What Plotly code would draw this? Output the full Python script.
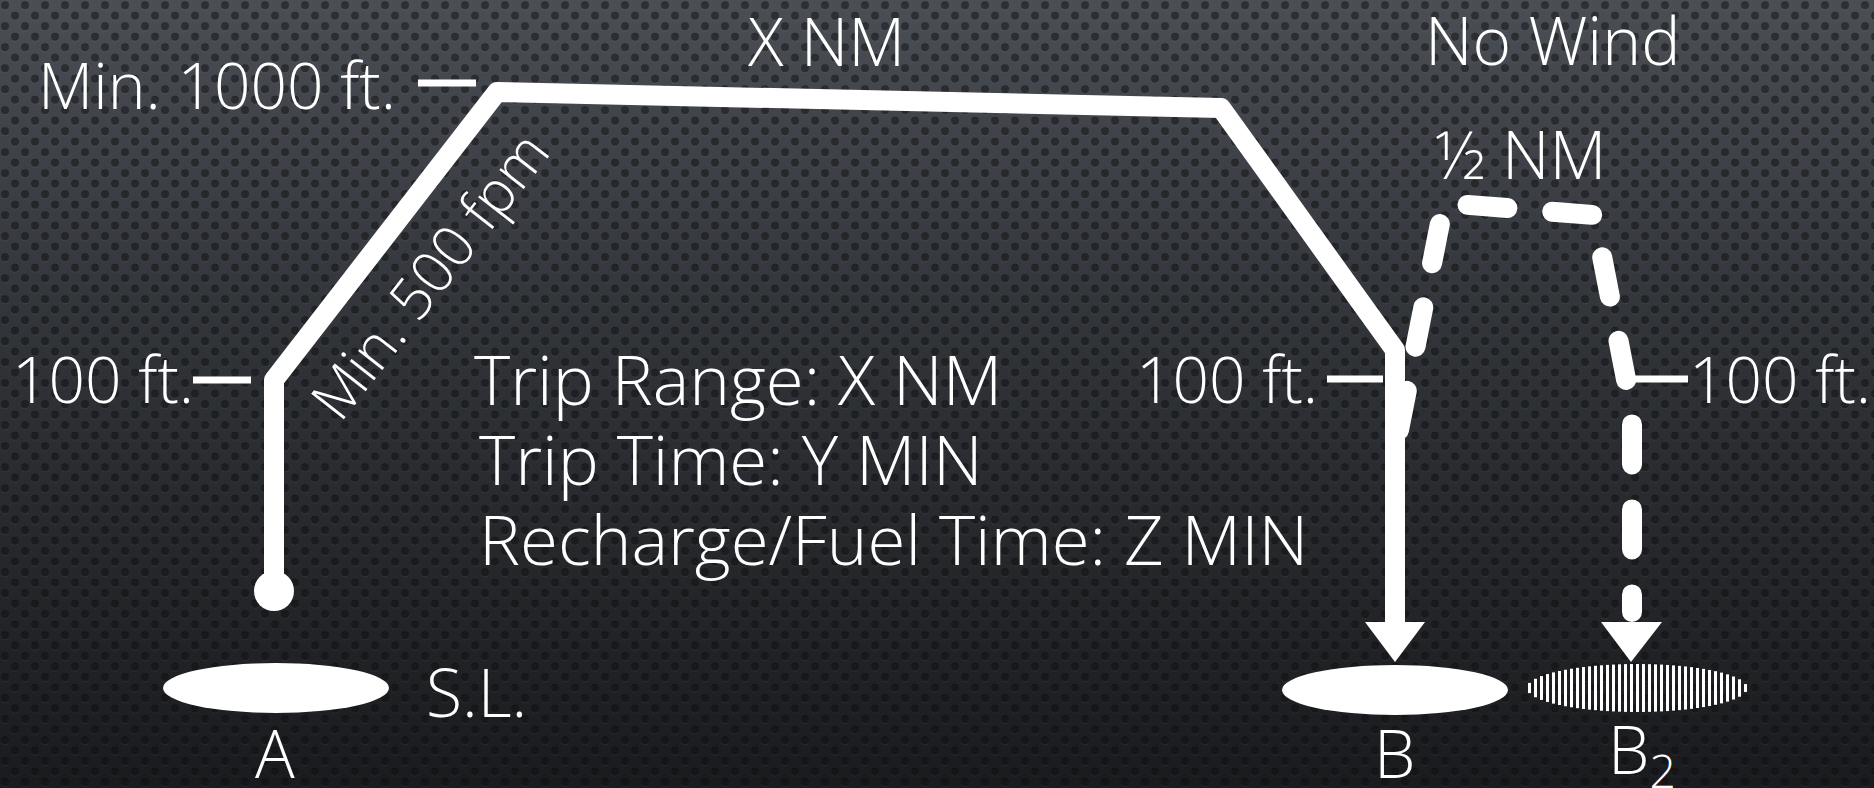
import base64
import numpy as np
import plotly.graph_objects as go

W, H = 1874, 788

# ---- diagram data (canvas pixel coordinates, y grows downward) ----
route_x = [274, 274, 497, 1221, 1395, 1395]
route_y = [591, 380, 92, 108, 350, 622]

divert_x = [1399, 1444, 1594, 1632, 1632]
divert_y = [430, 203, 215, 410, 612]

arrow_b_x = [1365, 1425, 1395]
arrow_b_y = [622, 622, 662]
arrow_b2_x = [1601, 1662, 1631]
arrow_b2_y = [622, 622, 662]

origin_x = [274]
origin_y = [591]

site_names = ["A", "B", "B2"]
site_cx = [276, 1395, 1637]
site_cy = [688, 690, 688]
site_rx = [113, 113, 110]
site_ry = [25, 25, 24]

tick_x0 = [418, 193, 1327, 1633]
tick_x1 = [476, 251, 1383, 1688]
tick_y = [83, 380, 379, 379]

label_text = ["Min. 1000 ft.", "X NM", "No Wind", "½ NM", "100 ft.", "100 ft.",
              "100 ft.", "S.L.", "A", "B", "B<sub>2</sub>"]
label_x = [398, 826, 1553, 1521, 196, 1320, 1687, 424, 275, 1394, 1642]
label_y = [84, 40, 39, 153, 378, 378, 378, 691, 752, 752, 752]
label_anchor = ["right", "center", "center", "center", "right", "right",
                "left", "left", "center", "center", "center"]
label_size = [64, 66, 66, 66, 64, 64, 64, 66, 66, 66, 66]

info_text = ["Trip Range: X NM", "Trip Time: Y MIN", "Recharge/Fuel Time: Z MIN"]
info_x = [472, 477, 477]
info_y = [378, 458, 538]

climb_text = "Min. 500 fpm"
climb_x, climb_y, climb_angle = 428, 274, -52

# ---- background (perforated metal texture) ----
svg = f'''<svg xmlns="http://www.w3.org/2000/svg" width="{W}" height="{H}" viewBox="0 0 {W} {H}">
<defs>
<linearGradient id="g" x1="0" y1="0" x2="0" y2="1">
<stop offset="0" stop-color="#4a4e55"/>
<stop offset="0.45" stop-color="#2f3237"/>
<stop offset="1" stop-color="#1a1b1e"/>
</linearGradient>
<pattern id="p" width="20" height="21" patternUnits="userSpaceOnUse">
<circle cx="5" cy="6.25" r="4" fill="#fff" fill-opacity="0.05"/>
<circle cx="15" cy="16.75" r="4" fill="#fff" fill-opacity="0.05"/>
<circle cx="5" cy="5.25" r="4" fill="#000" fill-opacity="0.45"/>
<circle cx="15" cy="15.75" r="4" fill="#000" fill-opacity="0.45"/>
</pattern>
</defs>
<rect width="{W}" height="{H}" fill="url(#g)"/>
<rect width="{W}" height="{H}" fill="url(#p)"/>
</svg>'''
bg_src = "data:image/svg+xml;base64," + base64.b64encode(svg.encode()).decode()

WHITE = "#ffffff"
FONT = dict(family="Open Sans", size=66, color=WHITE, weight=300)

fig = go.Figure()

# main route
fig.add_trace(go.Scatter(x=route_x, y=route_y, mode="lines",
                         line=dict(color=WHITE, width=20), hoverinfo="skip"))
# origin dot
fig.add_trace(go.Scatter(x=origin_x, y=origin_y, mode="markers",
                         marker=dict(color=WHITE, size=40, line=dict(width=0)), hoverinfo="skip"))
# diversion (dashed)
fig.add_trace(go.Scatter(x=divert_x, y=divert_y, mode="lines",
                         line=dict(color=WHITE, width=20, dash="40px,45px"), hoverinfo="skip"))
# arrowheads
for ax, ay in [(arrow_b_x, arrow_b_y), (arrow_b2_x, arrow_b2_y)]:
    fig.add_trace(go.Scatter(x=ax + [ax[0]], y=ay + [ay[0]], mode="lines", fill="toself",
                             fillcolor=WHITE, line=dict(color=WHITE, width=0), hoverinfo="skip"))

# sites A and B solid ellipses
shapes = []
for i in range(2):
    shapes.append(dict(type="circle", xref="x", yref="y",
                       x0=site_cx[i] - site_rx[i], x1=site_cx[i] + site_rx[i],
                       y0=site_cy[i] - site_ry[i], y1=site_cy[i] + site_ry[i],
                       fillcolor=WHITE, line=dict(width=0), layer="above"))

# B2 alternate site: vertical hatching clipped to its ellipse
cx, cy, rx, ry = site_cx[2], site_cy[2], site_rx[2], site_ry[2]
hx, hy = [], []
for xs in np.arange(cx - rx + 2.5, cx + rx, 6.0):
    u = (xs - cx) / rx
    hh = ry * np.sqrt(max(0.0, 1 - u * u))
    hx += [xs, xs, None]
    hy += [cy - hh, cy + hh, None]
fig.add_trace(go.Scatter(x=hx, y=hy, mode="lines", line=dict(color=WHITE, width=3),
                         hoverinfo="skip", connectgaps=False))

# altitude ticks
for x0, x1, y in zip(tick_x0, tick_x1, tick_y):
    shapes.append(dict(type="line", xref="x", yref="y", x0=x0, x1=x1, y0=y, y1=y,
                       line=dict(color=WHITE, width=7), layer="above"))

annotations = []
for txt, x, y, a, s in zip(label_text, label_x, label_y, label_anchor, label_size):
    annotations.append(dict(text=txt, x=x, y=y, xref="x", yref="y", xanchor=a,
                            yanchor="middle", showarrow=False, font={**FONT, "size": s}))
for txt, x, y in zip(info_text, info_x, info_y):
    annotations.append(dict(text=txt, x=x, y=y, xref="x", yref="y", xanchor="left",
                            yanchor="middle", showarrow=False, font={**FONT, "size": 69}))
annotations.append(dict(text=climb_text, x=climb_x, y=climb_y, xref="x", yref="y",
                        textangle=climb_angle, showarrow=False, font={**FONT, "size": 58}))

fig.update_layout(
    width=W, height=H, margin=dict(l=0, r=0, t=0, b=0, pad=0),
    paper_bgcolor="#2a2d32", plot_bgcolor="rgba(0,0,0,0)",
    showlegend=False,
    xaxis=dict(range=[0, W], visible=False, fixedrange=True),
    yaxis=dict(range=[H, 0], visible=False, fixedrange=True),
    images=[dict(source=bg_src, xref="paper", yref="paper", x=0, y=1, sizex=1, sizey=1,
                 xanchor="left", yanchor="top", sizing="stretch", layer="below")],
    shapes=shapes, annotations=annotations,
)

post = """
document.body.style.margin='0';
document.querySelectorAll('.scatterlayer path.js-line').forEach(function(p){
  if (p.style.strokeDasharray && p.style.strokeDasharray !== 'none') {
    p.style.strokeLinecap='round';
  }
  p.style.strokeLinejoin='round';
});
"""
fig.write_html("out.html", config={"displayModeBar": False}, post_script=post)
